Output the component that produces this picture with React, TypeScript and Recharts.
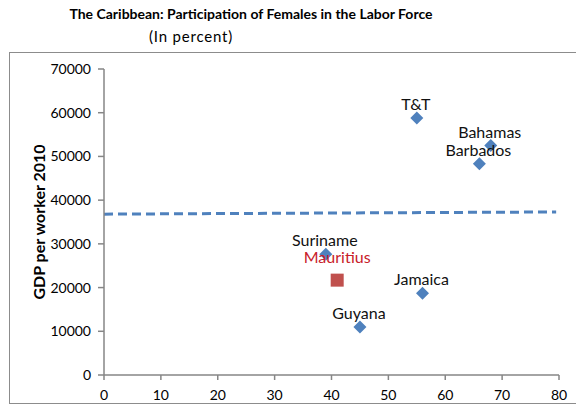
import { ScatterChart, Scatter, XAxis, YAxis, ReferenceLine } from 'recharts';

const countries = ['T&T', 'Bahamas', 'Barbados', 'Suriname', 'Jamaica', 'Guyana'];
const femaleParticipation = [55, 68, 66, 39, 56, 45];
const gdpPerWorker = [58800, 52500, 48300, 27600, 18700, 11000];

const highlightName = 'Mauritius';
const highlightX = 41;
const highlightY = 21700;

const trendX = [0, 79.5];
const trendY = [36800, 37300];

const xTicks = [0, 10, 20, 30, 40, 50, 60, 70, 80];
const yTicks = [0, 10000, 20000, 30000, 40000, 50000, 60000, 70000];

const caribbean = countries.map((name, i) => ({ name, x: femaleParticipation[i], y: gdpPerWorker[i] }));
const highlight = [{ name: highlightName, x: highlightX, y: highlightY }];

const font = 'Lato, "Open Sans", sans-serif';

function DiamondWithLabel(props: any) {
    const { cx, cy, payload } = props;
    const r = 6.5;
    return (
        <g>
            <polygon points={`${cx},${cy - r} ${cx + r},${cy} ${cx},${cy + r} ${cx - r},${cy}`} fill="#4f81bd" />
            <text x={cx - 1} y={cy - 8} textAnchor="middle" fontSize={16} fontFamily={font} fill="#111">
                {payload.name}
            </text>
        </g>
    );
}

function SquareWithLabel(props: any) {
    const { cx, cy, payload } = props;
    const h = 6.5;
    return (
        <g>
            <rect x={cx - h} y={cy - h} width={h * 2} height={h * 2} fill="#c0504d" />
            <text x={cx} y={cy - 17} textAnchor="middle" fontSize={16} fontFamily={font} fill="#c8202a">
                {payload.name}
            </text>
        </g>
    );
}

function YAxisTitle(props: any) {
    const { viewBox } = props;
    const x = viewBox.x + 38;
    const y = viewBox.y + viewBox.height / 2;
    return (
        <text
            x={x}
            y={y}
            transform={`rotate(-90, ${x}, ${y})`}
            textAnchor="middle"
            dominantBaseline="central"
            fontSize={16}
            fontWeight={700}
            fontFamily={font}
            fill="#000"
        >
            GDP per worker 2010
        </text>
    );
}

export default function App() {
    return (
        <div style={{ position: 'absolute', left: 0, top: 0, width: 576, height: 414, background: '#fff', overflow: 'hidden', fontFamily: font }}>
            <div style={{ position: 'absolute', left: 9, top: 52, width: 620, height: 350, border: '1px solid #8c8c8c' }} />
            <div style={{ position: 'absolute', left: 0, top: 5, width: 502, textAlign: 'center', fontWeight: 700, fontSize: 14, color: '#000' }}>
                The Caribbean: Participation of Females in the Labor Force
            </div>
            <div style={{ position: 'absolute', left: 0, top: 27, width: 382, textAlign: 'center', fontSize: 15, letterSpacing: 0.8, color: '#000' }}>
                (In percent)
            </div>
            <div style={{ position: 'absolute', left: 0, top: 0 }}>
                <ScatterChart width={576} height={414} margin={{ top: 69, right: 17, bottom: 0, left: 0 }}>
                    <XAxis
                        type="number"
                        dataKey="x"
                        domain={[0, 80]}
                        ticks={xTicks}
                        height={39}
                        tickSize={5}
                        tickMargin={10}
                        stroke="#868686"
                        strokeWidth={1.5}
                        tick={{ fill: '#000', fontSize: 14, fontFamily: font }}
                    />
                    <YAxis
                        type="number"
                        dataKey="y"
                        domain={[0, 70000]}
                        ticks={yTicks}
                        width={104}
                        tickSize={6}
                        tickMargin={7}
                        stroke="#868686"
                        strokeWidth={1.5}
                        tick={{ fill: '#000', fontSize: 14, fontFamily: font }}
                        label={<YAxisTitle />}
                    />
                    <ReferenceLine
                        segment={[{ x: trendX[0], y: trendY[0] }, { x: trendX[1], y: trendY[1] }]}
                        stroke="#4f81bd"
                        strokeWidth={3}
                        strokeDasharray="9 5"
                        ifOverflow="visible"
                    />
                    <Scatter data={caribbean} shape={DiamondWithLabel} isAnimationActive={false} />
                    <Scatter data={highlight} shape={SquareWithLabel} isAnimationActive={false} />
                </ScatterChart>
            </div>
        </div>
    );
}
